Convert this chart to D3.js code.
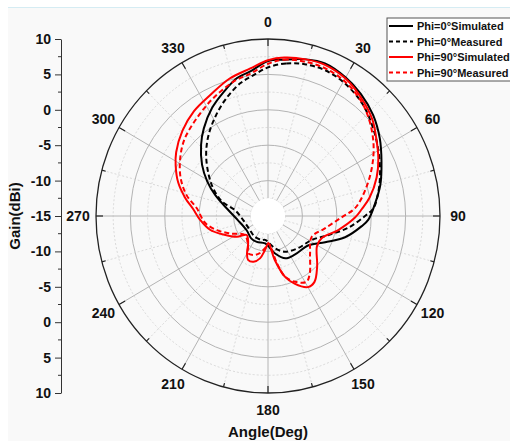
<!DOCTYPE html>
<html>
<head>
<meta charset="utf-8">
<script src="https://cdn.jsdelivr.net/npm/d3@7"></script>
<style>
  body { margin: 0; background: #fff; }
  text { font-family: "Liberation Sans", Arial, sans-serif; font-weight: bold; fill: #111; }
</style>
</head>
<body>
<svg width="510" height="441"></svg>
<script>
// angle (deg, clockwise from top) and gain (dBi)
var phi0SimAngle = [0, 6, 14, 21, 30, 38, 47, 56, 65, 75, 84, 92, 96, 105, 114, 125, 144, 157, 169, 186, 204, 217, 237, 262, 278, 291, 299, 307, 316, 323, 332, 340, 347, 353];
var phi0SimGain = [6.9, 7.2, 7.8, 8.1, 7.6, 6.9, 5.9, 4.6, 3.2, 1.9, 0.6, -0.4, -1.3, -3.4, -5.9, -7.8, -8.3, -8.5, -9.6, -11.1, -11.0, -11.0, -11.3, -10.6, -9.2, -6.8, -4.9, -3.0, -1.0, 0.5, 2.3, 3.7, 5.0, 5.6];

var phi0MeasAngle = [0, 7, 14, 22, 31, 41, 50, 59, 69, 78, 86, 90, 98, 107, 118, 136, 154, 167, 187, 195, 213, 233, 261, 280, 287, 296, 304, 314, 323, 332, 340, 348, 354];
var phi0MeasGain = [6.0, 6.7, 7.1, 7.2, 6.8, 5.95, 4.8, 3.65, 2.45, 1.4, 0.35, -0.9, -3.2, -5.8, -7.8, -8.7, -9.4, -10.3, -11.6, -11.5, -11.5, -11.7, -11.35, -10.1, -8.0, -6.15, -4.6, -2.5, -0.65, 1.1, 2.7, 4.2, 5.0];

var phi90SimAngle = [0, 6, 14, 21, 30, 39, 48, 55, 63, 71, 80, 86, 91, 101, 112, 121, 135, 144, 150, 158, 164, 171, 179, 185, 191, 198, 205, 210, 217, 229, 237, 248, 257, 267, 275, 282, 290, 298, 304, 314, 324, 334, 344, 353];
var phi90SimGain = [7.0, 7.5, 7.8, 7.9, 7.45, 6.5, 5.4, 4.2, 3.0, 1.7, 0.0, -1.35, -2.35, -4.6, -6.6, -6.7, -4.9, -3.5, -3.4, -4.7, -6.1, -8.7, -11.15, -10.2, -8.9, -8.2, -8.15, -8.9, -10.2, -10.9, -9.6, -8.0, -6.35, -5.1, -4.1, -2.7, -1.1, 0.2, 1.1, 2.3, 3.3, 4.05, 5.2, 6.0];

var phi90MeasAngle = [0, 6, 14, 22, 31, 40, 48, 57, 66, 76, 85, 91, 102, 115, 131, 143, 149, 157, 164, 169, 179, 183, 193, 201, 209, 214, 231, 246, 255, 264, 276, 284, 293, 303, 312, 323, 334, 345, 353];
var phi90MeasGain = [6.5, 7.2, 7.45, 7.45, 7.0, 6.1, 4.9, 3.3, 1.5, -0.5, -2.3, -4.3, -6.55, -8.0, -6.9, -4.9, -4.15, -4.9, -6.1, -8.2, -11.15, -10.7, -9.6, -9.1, -9.0, -9.8, -10.7, -8.95, -7.3, -5.8, -4.6, -2.8, -1.2, 0.2, 1.3, 2.25, 3.4, 4.6, 5.3];

var seriesNames = ["Phi=0\u00b0Simulated", "Phi=0\u00b0Measured", "Phi=90\u00b0Simulated", "Phi=90\u00b0Measured"];
var angleTicks = [0, 30, 60, 90, 120, 150, 180, 210, 240, 270, 300, 330];

var series = [
    { name: seriesNames[0], angle: phi0SimAngle, gain: phi0SimGain, color: "#000", dash: null },
    { name: seriesNames[1], angle: phi0MeasAngle, gain: phi0MeasGain, color: "#000", dash: "5,3" },
    { name: seriesNames[2], angle: phi90SimAngle, gain: phi90SimGain, color: "#f00", dash: null },
    { name: seriesNames[3], angle: phi90MeasAngle, gain: phi90MeasGain, color: "#f00", dash: "5,3" }
];

var cx = 268, cy = 216, rx = 172, ry = 177;
var r = d3.scaleLinear().domain([-15, 10]).range([0, 1]);

function pt(angle, gain) {
    var a = angle * Math.PI / 180, f = r(gain);
    return [cx + rx * f * Math.sin(a), cy - ry * f * Math.cos(a)];
}

var svg = d3.select("svg");

svg.append("rect").attr("x", 8).attr("y", 7).attr("width", 502).attr("height", 434).attr("fill", "#f9f9f9");
svg.append("line").attr("x1", 8).attr("x2", 510).attr("y1", 7.5).attr("y2", 7.5).attr("stroke", "#d5ecf3");

var grid = svg.append("g");

// circles
d3.range(-12.5, 10, 2.5).forEach(function (g) {
    var major = g % 5 === 0;
    grid.append("ellipse")
        .attr("cx", cx).attr("cy", cy)
        .attr("rx", rx * r(g)).attr("ry", ry * r(g))
        .attr("fill", "none")
        .attr("stroke", major ? "#b4b4b4" : "#d0d0d0")
        .attr("stroke-width", major ? 1 : 0.8)
        .attr("stroke-dasharray", major ? null : "2,2");
});

// spokes
d3.range(0, 360, 15).forEach(function (a) {
    var major = a % 30 === 0;
    var p0 = pt(a, -12.5), p1 = pt(a, 10);
    grid.append("line")
        .attr("x1", p0[0]).attr("y1", p0[1]).attr("x2", p1[0]).attr("y2", p1[1])
        .attr("stroke", major ? "#b4b4b4" : "#d0d0d0")
        .attr("stroke-width", major ? 1 : 0.8)
        .attr("stroke-dasharray", major ? null : "2,2");
});

grid.append("ellipse")
    .attr("cx", cx).attr("cy", cy)
    .attr("rx", rx * r(-12.5)).attr("ry", ry * r(-12.5))
    .attr("fill", "#fff");

// outer rim + ticks
grid.append("ellipse")
    .attr("cx", cx).attr("cy", cy).attr("rx", rx).attr("ry", ry)
    .attr("fill", "none").attr("stroke", "#222").attr("stroke-width", 1.3);

d3.range(0, 360, 15).forEach(function (a) {
    var len = a % 30 === 0 ? 7 : 4;
    var rad = a * Math.PI / 180;
    var p1 = pt(a, 10);
    grid.append("line")
        .attr("x1", p1[0]).attr("y1", p1[1])
        .attr("x2", p1[0] - len * Math.sin(rad)).attr("y2", p1[1] + len * Math.cos(rad))
        .attr("stroke", "#222").attr("stroke-width", 1.2);
});

// angle labels sit on a slightly larger ring
angleTicks.forEach(function (a) {
    var rad = a * Math.PI / 180;
    svg.append("text")
        .attr("x", cx + (rx + 18) * Math.sin(rad))
        .attr("y", cy - (ry + 17) * Math.cos(rad))
        .attr("text-anchor", "middle").attr("dominant-baseline", "central")
        .style("font-size", "14px")
        .text(a);
});

// curves
var line = d3.line().curve(d3.curveCatmullRomClosed.alpha(0.5));
series.forEach(function (s) {
    var pts = s.angle.map(function (a, i) { return pt(a, s.gain[i]); });
    svg.append("path")
        .datum(pts)
        .attr("d", line)
        .attr("fill", "none")
        .attr("stroke", s.color)
        .attr("stroke-width", 2)
        .attr("stroke-dasharray", s.dash);
});

// left gain axis, mirrored about the centre
var yAxisScale = d3.scaleLinear().domain([-25, 25]).range([cy + ry, cy - ry]);
var yAxis = d3.axisLeft(yAxisScale)
    .tickValues(d3.range(-25, 26, 5))
    .tickFormat(function (v) { return -15 + Math.abs(v); })
    .tickSize(6).tickSizeOuter(0).tickPadding(4);
var yg = svg.append("g").attr("transform", "translate(61,0)").call(yAxis);
yg.selectAll("text").style("font-size", "14px").style("font-family", "'Liberation Sans', Arial, sans-serif").style("font-weight", "bold").attr("fill", "#111");
yg.selectAll("line, path").attr("stroke", "#333");
yg.selectAll(".minor").data(d3.range(-22.5, 25, 5)).enter().append("line")
    .attr("x1", -3).attr("x2", 0)
    .attr("y1", function (d) { return yAxisScale(d); }).attr("y2", function (d) { return yAxisScale(d); })
    .attr("stroke", "#333");

svg.append("text")
    .attr("transform", "translate(20,216) rotate(-90)")
    .attr("text-anchor", "middle")
    .style("font-size", "15px")
    .text("Gain(dBi)");

svg.append("text")
    .attr("x", 268).attr("y", 437)
    .attr("text-anchor", "middle")
    .style("font-size", "15px")
    .text("Angle(Deg)");

// legend
var lg = svg.append("g").attr("transform", "translate(387,18)");
lg.append("rect").attr("width", 140).attr("height", 63)
    .attr("fill", "#fff").attr("stroke", "#555").attr("stroke-width", 1);
series.forEach(function (s, i) {
    var y = 8 + i * 15.5;
    lg.append("line").attr("x1", 2).attr("x2", 26).attr("y1", y).attr("y2", y)
        .attr("stroke", s.color).attr("stroke-width", 2).attr("stroke-dasharray", s.dash ? "4,3" : null);
    lg.append("text").attr("x", 30).attr("y", y + 4)
        .style("font-size", "11px")
        .text(s.name);
});
</script>
</body>
</html>
